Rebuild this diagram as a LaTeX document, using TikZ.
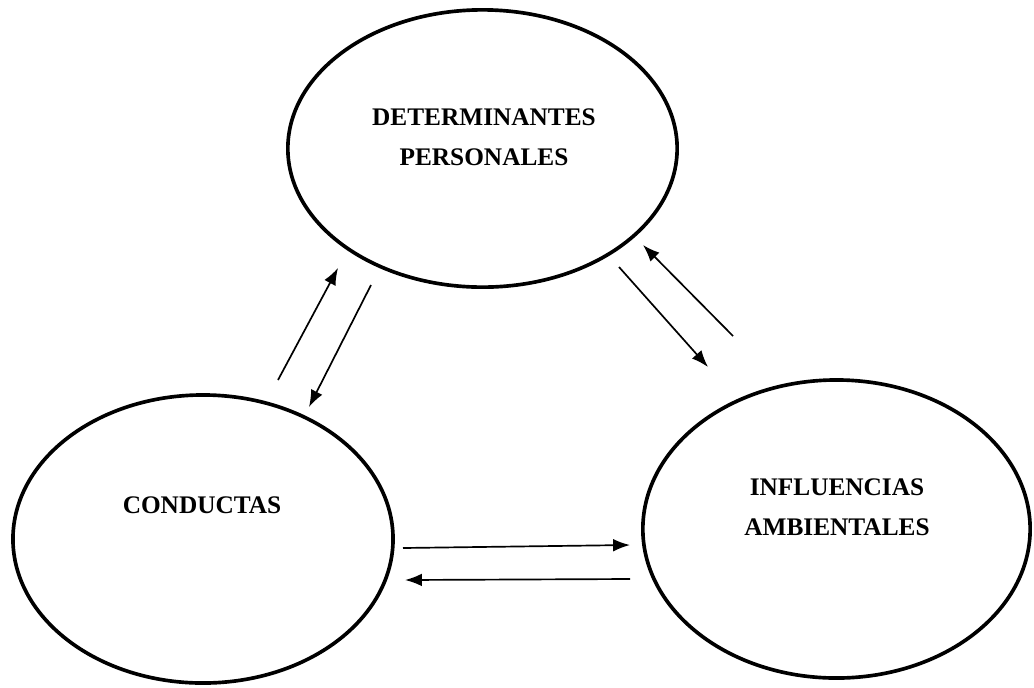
\documentclass[tikz,border=0pt]{standalone}
\usepackage{fontspec}
\setmainfont{Liberation Serif}
\usetikzlibrary{shapes.geometric,arrows.meta}
\tikzset{>={Latex[length=12pt,width=9pt]}}
\tikzset{
    factor/.style={draw,ellipse,line width=2.6pt,inner sep=0pt},
    factortext/.style={font=\bfseries\fontsize{18}{28.5}\selectfont,align=center},
    link/.style={->,line width=1.2pt}
}

\begin{document}
\begin{tikzpicture}[x=0.025cm,y=-0.025cm]
            \useasboundingbox (0,0) rectangle (1034,687);
            % the three factors
            \node[factor,minimum width=9.73cm,minimum height=6.93cm] (pers) at (482.5,148.5) {};
            \node[factor,minimum width=9.5cm,minimum height=7.2cm]   (cond) at (203,539) {};
            \node[factor,minimum width=9.68cm,minimum height=7.45cm] (amb)  at (836.5,529) {};
            \node[factortext] (perstext) at (484,137.5) {DETERMINANTES\\PERSONALES};
            \node[factortext] (condtext) at (202,505)   {CONDUCTAS};
            \node[factortext] (ambtext)  at (837,507)   {INFLUENCIAS\\AMBIENTALES};
            % arrow ends
            \coordinate (cp1) at (278,380);
            \coordinate (cp2) at (338,268);
            \coordinate (pc1) at (371,285);
            \coordinate (pc2) at (309,407);
            \coordinate (pa1) at (619,267);
            \coordinate (pa2) at (708,367);
            \coordinate (ap1) at (733,336);
            \coordinate (ap2) at (643,245);
            \coordinate (ca1) at (403,548);
            \coordinate (ca2) at (630,545);
            \coordinate (ac1) at (630,579);
            \coordinate (ac2) at (405,580);
            \draw[link] (cp1) -- (cp2);
            \draw[link] (pc1) -- (pc2);
            \draw[link] (pa1) -- (pa2);
            \draw[link] (ap1) -- (ap2);
            \draw[link] (ca1) -- (ca2);
            \draw[link] (ac1) -- (ac2);
        \end{tikzpicture}
\end{document}
